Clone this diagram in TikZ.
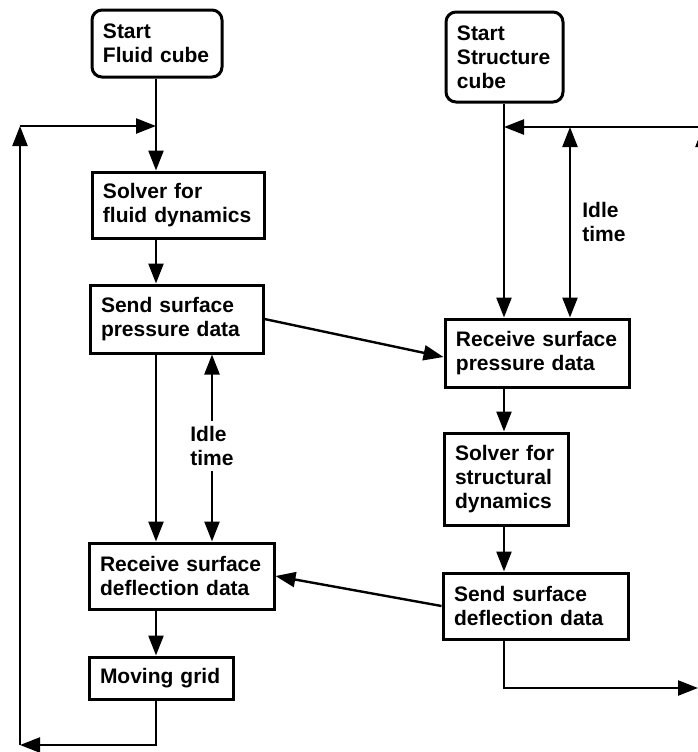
\documentclass[tikz,border=0pt]{standalone}
\usepackage{fontspec}
\setmainfont{Liberation Sans}
\usetikzlibrary{arrows.meta}
\tikzset{
  blk/.style 2 args={draw, line width=1.5pt, text width=#1, minimum height=#2,
    inner xsep=5.5pt, inner ysep=2pt, align=left,
    font=\bfseries\fontsize{10.5pt}{12pt}\selectfont},
  rblk/.style 2 args={blk={#1}{#2}, rounded corners=5pt},
  lbl/.style={align=left, inner xsep=0pt, inner ysep=2.5pt,
    font=\bfseries\fontsize{10.5pt}{12pt}\selectfont},
  arr/.style={line width=1.2pt, -{Triangle[length=10pt,width=7.5pt]}},
  darr/.style={line width=1.2pt, {Triangle[length=10pt,width=7.5pt]}-{Triangle[length=10pt,width=7.5pt]}},
  ln/.style={line width=1.2pt}
}
\begin{document}
\begin{tikzpicture}[x=0.5pt,y=-0.5pt]
\useasboundingbox (0,0) rectangle (698,752);
\clip (0,0) rectangle (698,752);
% nodes
\node[rblk={54pt}{33.5pt}] (sf) at (157,43.5) {Start\\Fluid cube};
\node[blk={75pt}{33pt}] (solf) at (178,205) {Solver for\\fluid dynamics};
\node[blk={75.5pt}{34pt}] (sendp) at (176.5,319) {Send surface\\pressure data};
\node[blk={81.5pt}{33pt}] (recd) at (181.5,576) {Receive surface\\deflection data};
\node[blk={61pt}{21pt}] (mg) at (161,678) {Moving grid};
\node[rblk={47.5pt}{45pt}] (ss) at (504.5,57) {Start\\Structure\\cube};
\node[blk={81pt}{34pt}] (recp) at (537,353) {Receive surface\\pressure data};
\node[blk={51pt}{46pt}] (sols) at (506,479) {Solver for\\structural\\dynamics};
\node[blk={81.5pt}{33pt}] (sendd) at (535.5,606) {Send surface\\deflection data};
\node[lbl] (idle1) at (212,446) {Idle\\time};
\node[lbl, anchor=west] (idle2) at (582,222) {Idle\\time};
% helper coordinates
\coordinate (fx) at (156,0);
\coordinate (sx) at (504,0);
\coordinate (ix) at (570,0);
\coordinate (Lt) at (20,126);
\coordinate (Lb) at (20,745);
\coordinate (jf) at (156,126);
\coordinate (Rv) at (703,127);
\coordinate (Rb) at (703,400);
\coordinate (Re) at (698,688);
% fluid side
\draw[arr] (sf.south -| fx) -- (solf.north -| fx);
\draw[arr] (Lt) -- (jf);
\draw[arr] (Lb) -- (Lt);
\draw[arr] (mg.south -| fx) -- (fx |- Lb) -- (Lb);
\draw[arr] (solf.south -| fx) -- (sendp.north -| fx);
\draw[arr] (sendp.south -| fx) -- (recd.north -| fx);
\draw[arr] (recd.south -| fx) -- (mg.north -| fx);
\draw[arr] (idle1.north) -- (idle1.north |- sendp.south);
\draw[arr] (idle1.south) -- (idle1.south |- recd.north);
% structure side
\draw[arr] (ss.south -| sx) -- (recp.north -| sx);
\draw[arr] (Rv) -- (sx |- Rv);
\draw[arr] (Rb) -- (Rv);
\draw[darr] (ix |- Rv) -- (recp.north -| ix);
\draw[arr] (recp.south -| sx) -- (sols.north -| sx);
\draw[arr] (sols.south -| sx) -- (sendd.north -| sx);
\draw[arr] (sendd.south -| sx) |- (Re);
% exchanges
\draw[arr] (sendp.east) -- ([yshift=-2pt]recp.west);
\draw[arr] (sendd.west) -- (recd.east);
\end{tikzpicture}
\end{document}
